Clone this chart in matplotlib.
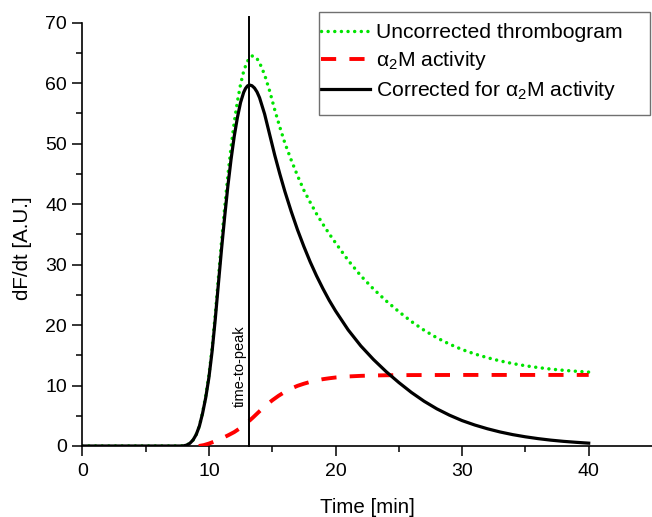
import matplotlib
matplotlib.use("Agg")
import matplotlib.pyplot as plt
from matplotlib.ticker import MultipleLocator, FixedLocator
from matplotlib.patches import Rectangle

plt.rcParams['font.family'] = ['Liberation Sans', 'DejaVu Sans']
plt.rcParams['mathtext.fontset'] = 'custom'
plt.rcParams['mathtext.rm'] = 'Liberation Sans'
plt.rcParams['mathtext.it'] = 'Liberation Sans:italic'

# ---- data ----
# Corrected for alpha2M activity (black)
t_corr = [0, 7.75, 8.0, 8.25, 8.5, 8.75, 9.0, 9.25, 9.5, 9.75, 10.0, 10.25, 10.5,
          10.75, 11.0, 11.25, 11.5, 11.75, 12.0, 12.25, 12.5, 12.75, 12.9, 13.05,
          13.2, 13.4, 13.6, 13.8, 14.0, 14.4, 14.8, 15.2, 15.6, 16.0, 16.5, 17.0,
          17.5, 18.0, 18.5, 19.0, 19.5, 20.0, 21.0, 22.0, 23.0, 24.0, 25.0, 26.0,
          27.0, 28.0, 29.0, 30.0, 31.0, 32.0, 33.0, 34.0, 35.0, 36.0, 37.0, 38.0,
          39.0, 40.0]
v_corr = [0, 0, 0.03, 0.15, 0.45, 1.0, 1.9, 3.3, 5.4, 8.0, 11.3, 15.6, 20.9,
          26.8, 32.6, 38.0, 43.0, 47.4, 51.2, 54.3, 56.8, 58.5, 59.15, 59.55,
          59.7, 59.58, 59.2, 58.55, 57.6, 54.9, 51.5, 48.1, 45.0, 42.1, 38.8, 35.75,
          33.0, 30.45, 28.15, 26.05, 24.1, 22.35, 19.2, 16.55, 14.3, 12.3, 10.5, 8.85,
          7.4, 6.15, 5.1, 4.2, 3.47, 2.85, 2.32, 1.88, 1.52, 1.22, 0.97, 0.77,
          0.61, 0.47]

# alpha2M activity (red dashed)
t_a2m = [9.2, 9.6, 10.0, 10.5, 11.0, 11.5, 12.0, 12.5, 13.0, 13.5, 14.0, 14.5,
         15.0, 15.5, 16.0, 16.5, 17.0, 17.5, 18.0, 18.5, 19.0, 19.5, 20.0, 21.0,
         22.0, 23.0, 24.0, 26.0, 30.0, 35.0, 40.0]
v_a2m = [0.0, 0.15, 0.4, 0.8, 1.25, 1.75, 2.3, 3.0, 3.8, 4.75, 5.75, 6.7,
         7.55, 8.3, 8.95, 9.5, 9.95, 10.3, 10.6, 10.85, 11.05, 11.2, 11.33, 11.5,
         11.6, 11.66, 11.7, 11.73, 11.75, 11.75, 11.75]

# Uncorrected thrombogram (green dotted)
t_unc = [0, 7.75, 8.0, 8.25, 8.5, 8.75, 9.0, 9.25, 9.5, 9.75, 10.0, 10.25, 10.5,
         10.75, 11.0, 11.25, 11.5, 11.75, 12.0, 12.25, 12.5, 12.75, 13.0, 13.2,
         13.4, 13.6, 13.8, 14.0, 14.4, 14.8, 15.2, 15.6, 16.0, 16.5, 17.0, 17.5,
         18.0, 18.5, 19.0, 19.5, 20.0, 21.0, 22.0, 23.0, 24.0, 25.0, 26.0, 27.0,
         28.0, 29.0, 30.0, 31.0, 32.0, 33.0, 34.0, 35.0, 36.0, 37.0, 38.0, 39.0,
         40.0]
v_unc = [0, 0, 0.03, 0.15, 0.45, 1.0, 1.9, 3.32, 5.5, 8.3, 11.7, 16.15, 21.7,
         27.8, 33.85, 39.5, 44.75, 49.4, 53.5, 56.95, 59.8, 62.0, 63.45, 64.15,
         64.5, 64.45, 64.05, 63.4, 61.4, 58.7, 55.6, 52.75, 50.1, 47.3, 44.7, 42.3,
         40.3, 38.4, 36.7, 35.1, 33.6, 30.7, 28.15, 25.96, 24.0, 22.22, 20.58, 19.14,
         17.9, 16.85, 15.95, 15.22, 14.6, 14.07, 13.63, 13.27, 12.97, 12.72, 12.52, 12.36,
         12.22]

time_to_peak = 13.18
labels = ['Uncorrected thrombogram', r'$\mathregular{\alpha_2}$M activity',
          r'Corrected for $\mathregular{\alpha_2}$M activity']
x_major = [0, 10, 20, 30, 40]
x_minor = [5, 15, 25, 35]

# ---- figure ----
W, H = 652, 517
fig = plt.figure(figsize=(W / 100, H / 100), dpi=100)
ax = fig.add_axes([82.3 / W, 71 / H, 1 - 82.3 / W, 423.3 / H])

l1, = ax.plot(t_unc, v_unc, color='#00e400', lw=2.5, linestyle=(0, (0.01, 1.9)),
              dash_capstyle='round', zorder=2)
l2, = ax.plot(t_a2m, v_a2m, color='#ff0000', lw=2.8, linestyle=(0, (3.9, 3.4)), zorder=3)
l3, = ax.plot(t_corr, v_corr, color='black', lw=2.3, zorder=4)

ax.axvline(time_to_peak, ymin=0, ymax=71 / 70, color='black', lw=1.4,
           clip_on=False, zorder=5)
ax.text(time_to_peak - 0.15, 6.4, 'time-to-peak', rotation=90, ha='right',
        va='bottom', fontsize=10.5)

ax.set_xlim(0, 45)
ax.set_ylim(0, 70)
ax.xaxis.set_major_locator(FixedLocator(x_major))
ax.xaxis.set_minor_locator(FixedLocator(x_minor))
ax.yaxis.set_major_locator(MultipleLocator(10))
ax.yaxis.set_minor_locator(MultipleLocator(5))

for s in ['top', 'right']:
    ax.spines[s].set_visible(False)
for s in ['left', 'bottom']:
    ax.spines[s].set_linewidth(1.2)

ax.tick_params(which='major', direction='out', length=7, width=1.1,
               labelsize=14, pad=4)
ax.tick_params(axis='x', which='major', pad=5)
ax.tick_params(which='minor', direction='out', length=4, width=1.1)

ax.set_xlabel('Time [min]', fontsize=14.8, labelpad=13)
ax.set_ylabel('dF/dt [A.U.]', fontsize=14.8)
ax.yaxis.set_label_coords(-0.088, 0.467)

# legend (frame drawn separately to match the reference padding)
leg = ax.legend([l1, l2, l3], labels, loc='upper left',
                bbox_to_anchor=(321 / W, (H - 23) / H),
                bbox_transform=fig.transFigure, fontsize=15.2, frameon=False,
                handlelength=2.32, handletextpad=0.28, labelspacing=0.33,
                borderpad=0, borderaxespad=0)
fig.patches.append(Rectangle((319 / W, (H - 115) / H), 331 / W, 103.3 / H,
                             transform=fig.transFigure, fill=False,
                             edgecolor='#707070', lw=1.0))

fig.savefig('out.png', dpi=100)
